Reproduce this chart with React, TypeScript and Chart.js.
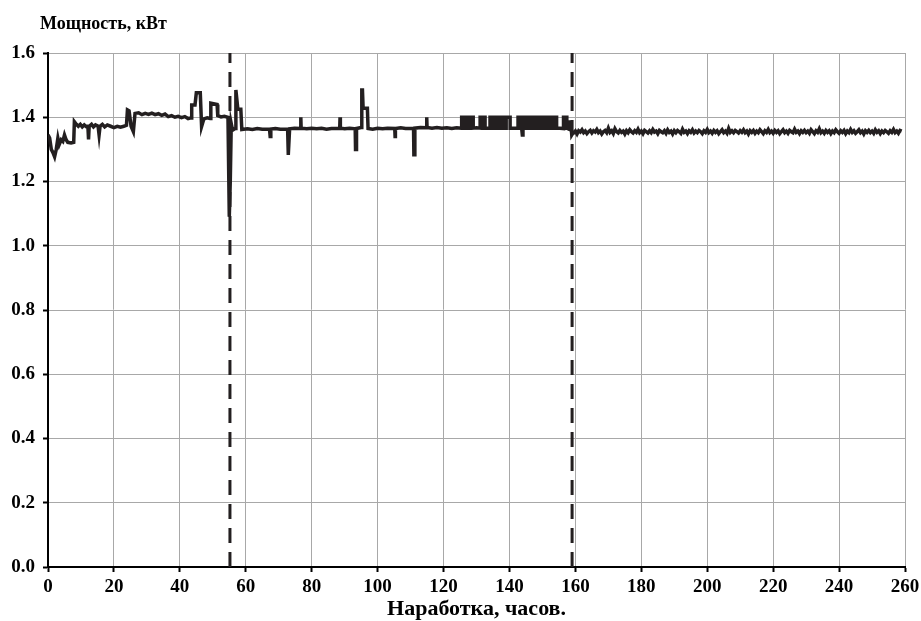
import React, { useEffect, useRef } from "react";
import { Chart, registerables } from "chart.js";

Chart.register(...registerables);

// Segment 1: running-in, 0 – 58.8 h
const hoursA = [
  0.0, 0.5, 1.0, 1.5, 2.0, 2.5, 3.0, 3.4, 4.0, 4.5, 5.0, 5.5, 6.0, 7.0, 7.8,
  8.0, 8.6, 9.2, 9.8, 10.4, 11.0, 11.6, 12.1, 12.3, 12.5, 13.2, 13.8, 14.4,
  15.2, 15.5, 15.8, 16.5, 17.2, 18.0, 19.0, 20.0, 21.0, 22.0, 23.0, 23.8, 24.1,
  24.6, 25.2, 25.9, 26.4, 27.5, 28.5, 29.5, 30.5, 31.5, 32.5, 33.5, 34.5, 35.5,
  36.5, 37.5, 38.5, 39.5, 40.5, 41.5, 42.5, 43.4, 43.6, 44.6, 45.0, 46.2, 46.6,
  47.3, 48.3, 49.2, 49.4, 51.3, 51.5, 52.5, 53.5, 54.6, 55.0, 55.3, 55.6, 56.0,
  56.8, 57.0, 57.6, 58.5,
];
const powerA = [
  1.345, 1.335, 1.300, 1.290, 1.277, 1.300, 1.335, 1.315, 1.330, 1.325, 1.345,
  1.330, 1.322, 1.320, 1.322, 1.386, 1.378, 1.372, 1.378, 1.370, 1.376, 1.371,
  1.372, 1.331, 1.372, 1.378, 1.370, 1.376, 1.372, 1.345, 1.372, 1.378, 1.370,
  1.376, 1.372, 1.368, 1.372, 1.369, 1.372, 1.375, 1.423, 1.420, 1.372, 1.355,
  1.412, 1.414, 1.408, 1.412, 1.409, 1.413, 1.408, 1.411, 1.406, 1.410, 1.402,
  1.405, 1.400, 1.403, 1.399, 1.402, 1.396, 1.398, 1.438, 1.438, 1.476, 1.476,
  1.371, 1.395, 1.398, 1.396, 1.444, 1.440, 1.405, 1.401, 1.403, 1.400, 1.090,
  1.200, 1.380, 1.360, 1.365, 1.485, 1.425, 1.425,
];

// Segment 2: 58.8 – 159.2 h
const hoursB = [
  58.8, 60.5, 62.0, 63.5, 65.0, 67.2, 67.4, 67.6, 69.0, 70.5, 72.7, 72.9, 73.1,
  73.3, 74.8, 76.6, 76.7, 76.8, 78.5, 80.0, 81.5, 83.0, 84.5, 86.0, 88.5, 88.6,
  88.7, 90.0, 91.5, 93.2, 93.3, 93.5, 93.6, 95.0, 95.2, 95.4, 95.6, 96.9, 97.1,
  98.5, 100.0, 101.5, 103.0, 105.2, 105.3, 105.4, 107.0, 108.5, 110.9, 111.0,
  111.2, 111.3, 113.0, 114.8, 114.9, 115.0, 116.5, 118.0, 119.5, 121.0, 122.5,
  124.0, 125.4,
  125.5, 125.5, 125.9, 125.9, 126.3, 126.3, 126.8, 126.8, 127.2, 127.2, 127.6,
  127.6, 128.0, 128.0, 129.0, 129.0, 130.0, 131.1, 131.1, 131.5, 131.5, 131.9,
  131.9, 132.6, 132.6, 133.4, 134.1, 134.1, 134.6, 134.6, 134.9, 134.9, 135.6,
  135.6, 135.9, 135.9, 136.5, 136.5, 136.8, 136.8, 137.8, 137.8, 138.1, 138.1,
  138.7, 138.7, 139.0, 139.0, 140.2, 140.2, 141.4, 142.6, 142.6, 143.0, 143.0,
  143.3, 143.3, 143.7, 143.7, 143.9, 144.1, 144.7, 144.7, 145.6, 145.6, 146.2,
  146.2, 146.7, 146.7, 147.0, 147.0, 147.5, 147.5, 147.8, 147.8, 148.3, 148.3,
  148.9, 148.9, 149.4, 149.4, 149.7, 149.7, 150.3, 150.3, 150.6, 150.6, 151.1,
  151.1, 151.4, 151.4, 151.9, 151.9, 152.3, 152.3, 152.8, 152.8, 153.3, 153.3,
  153.7, 153.7, 154.0, 154.0, 154.3, 154.3, 155.3, 156.4, 156.4, 156.8, 156.8,
  157.1, 157.1, 157.4, 157.4, 158.0, 158.3, 158.6, 158.9, 159.2,
];
const powerB = [
  1.362, 1.364, 1.362, 1.365, 1.363, 1.363, 1.340, 1.363, 1.365, 1.363, 1.363,
  1.283, 1.283, 1.364, 1.366, 1.365, 1.400, 1.366, 1.364, 1.366, 1.364, 1.366,
  1.363, 1.365, 1.365, 1.400, 1.366, 1.364, 1.366, 1.364, 1.300, 1.300, 1.365,
  1.368, 1.485, 1.485, 1.428, 1.428, 1.365, 1.363, 1.366, 1.364, 1.366, 1.365,
  1.340, 1.365, 1.367, 1.365, 1.365, 1.283, 1.283, 1.366, 1.368, 1.367, 1.400,
  1.368, 1.366, 1.368, 1.366, 1.367, 1.365, 1.367, 1.366,
  1.366, 1.400, 1.400, 1.366, 1.366, 1.400, 1.400, 1.366, 1.366, 1.400, 1.400,
  1.366, 1.366, 1.400, 1.400, 1.366, 1.367, 1.366, 1.400, 1.400, 1.366, 1.366,
  1.400, 1.400, 1.366, 1.366, 1.366, 1.400, 1.400, 1.366, 1.366, 1.400, 1.400,
  1.366, 1.366, 1.400, 1.400, 1.366, 1.366, 1.400, 1.400, 1.366, 1.366, 1.400,
  1.400, 1.366, 1.366, 1.400, 1.400, 1.366, 1.366, 1.366, 1.400, 1.400, 1.366,
  1.366, 1.400, 1.400, 1.366, 1.345, 1.366, 1.366, 1.400, 1.400, 1.366, 1.366,
  1.400, 1.400, 1.366, 1.366, 1.400, 1.400, 1.366, 1.366, 1.400, 1.400, 1.366,
  1.366, 1.400, 1.400, 1.366, 1.366, 1.400, 1.400, 1.366, 1.366, 1.400, 1.400,
  1.366, 1.366, 1.400, 1.400, 1.366, 1.366, 1.400, 1.400, 1.366, 1.366, 1.400,
  1.400, 1.366, 1.366, 1.400, 1.400, 1.366, 1.366, 1.365, 1.400, 1.400, 1.366,
  1.366, 1.400, 1.400, 1.366, 1.363, 1.385, 1.385, 1.345, 1.350,
];

// Segment 3: steady state, sampled every 0.5 h from 159.5 h
const startC = 159.5;
const stepC = 0.5;
const powerC = [
  1.351, 1.357, 1.348, 1.358, 1.354, 1.361, 1.352, 1.357, 1.349, 1.355, 1.359, 1.351, 1.358, 1.354, 1.362, 1.352, 1.357, 1.348, 1.355, 1.359,
  1.352, 1.366, 1.353, 1.358, 1.349, 1.364, 1.355, 1.351, 1.359, 1.353, 1.357, 1.348, 1.358, 1.352, 1.361, 1.355, 1.351, 1.358, 1.353, 1.363,
  1.352, 1.357, 1.349, 1.359, 1.355, 1.351, 1.358, 1.352, 1.362, 1.354, 1.357, 1.349, 1.359, 1.355, 1.352, 1.358, 1.350, 1.361, 1.353, 1.357,
  1.348, 1.358, 1.352, 1.359, 1.355, 1.350, 1.363, 1.353, 1.357, 1.349, 1.358, 1.353, 1.361, 1.351, 1.357, 1.352, 1.359, 1.355, 1.349, 1.358,
  1.353, 1.362, 1.352, 1.357, 1.350, 1.359, 1.353, 1.358, 1.349, 1.355, 1.361, 1.352, 1.357, 1.350, 1.365, 1.353, 1.358, 1.352, 1.359, 1.355,
  1.351, 1.358, 1.353, 1.361, 1.352, 1.357, 1.348, 1.358, 1.353, 1.359, 1.350, 1.357, 1.352, 1.361, 1.355, 1.349, 1.358, 1.353, 1.362, 1.352,
  1.357, 1.350, 1.359, 1.353, 1.358, 1.349, 1.355, 1.361, 1.352, 1.357, 1.350, 1.359, 1.355, 1.352, 1.363, 1.353, 1.357, 1.349, 1.358, 1.353,
  1.359, 1.352, 1.357, 1.350, 1.361, 1.355, 1.349, 1.358, 1.353, 1.364, 1.352, 1.357, 1.350, 1.359, 1.353, 1.358, 1.349, 1.357, 1.352, 1.361,
  1.355, 1.350, 1.358, 1.353, 1.359, 1.349, 1.357, 1.352, 1.362, 1.353, 1.358, 1.350, 1.355, 1.361, 1.352, 1.357, 1.348, 1.358, 1.353, 1.359,
  1.352, 1.357, 1.350, 1.361, 1.353, 1.358, 1.349, 1.357, 1.352, 1.359, 1.355, 1.350, 1.358, 1.353, 1.362, 1.352, 1.357, 1.350, 1.359, 1.357,
];

// Stage boundaries (dashed vertical lines), hours
const stageBounds = [55.2, 159.0];

const yTitle = "Мощность, кВт";
const xTitle = "Наработка, часов.";

const INK = "#231f20";
const FONT = '"Liberation Serif", "Times New Roman", serif';

export default function App() {
  const ref = useRef<HTMLCanvasElement | null>(null);

  useEffect(() => {
    const canvas = ref.current;
    if (!canvas) return;

    const series: { x: number; y: number }[] = [];
    hoursA.forEach((h, i) => series.push({ x: h, y: powerA[i] }));
    hoursB.forEach((h, i) => series.push({ x: h, y: powerB[i] }));
    powerC.forEach((v, i) => series.push({ x: startC + i * stepC, y: v }));

    const boundSets = stageBounds.map((b) => ({
      data: [
        { x: b, y: 0 },
        { x: b, y: 1.6 },
      ],
      borderColor: INK,
      borderWidth: 3,
      borderDash: [15, 9],
      pointRadius: 0,
      fill: false,
    }));

    const titles = {
      id: "titles",
      afterDraw(chart: any) {
        const { ctx, chartArea } = chart;
        ctx.save();
        ctx.fillStyle = "#000";
        ctx.textBaseline = "middle";
        ctx.font = `bold 18px ${FONT}`;
        ctx.textAlign = "left";
        ctx.fillText(yTitle, 40, 24);
        ctx.font = `bold 22px ${FONT}`;
        ctx.textAlign = "center";
        ctx.fillText(xTitle, (chartArea.left + chartArea.right) / 2, 609);
        ctx.restore();
      },
    };

    const chart = new Chart(canvas, {
      type: "line",
      data: {
        datasets: [
          {
            data: series,
            borderColor: INK,
            borderWidth: 3.5,
            pointRadius: 0,
            tension: 0,
            fill: false,
          },
          ...boundSets,
        ] as any,
      },
      options: {
        animation: false,
        responsive: false,
        events: [],
        layout: { padding: { top: 53, right: 16, left: 0, bottom: 0 } },
        plugins: {
          legend: { display: false },
          tooltip: { enabled: false },
          title: { display: false },
        },
        scales: {
          x: {
            type: "linear",
            min: 0,
            max: 260,
            afterFit(scale: any) {
              scale.height = 54;
              scale.paddingLeft = 0;
              scale.paddingRight = 0;
            },
            ticks: {
              stepSize: 20,
              color: "#000",
              padding: 4,
              font: { family: FONT, size: 19, weight: "bold" },
            },
            grid: {
              color: "#a8a8a8",
              lineWidth: 1,
              tickColor: "#000",
              tickLength: 5,
              tickWidth: 2,
            },
            border: { color: "#000", width: 2 },
          },
          y: {
            type: "linear",
            min: 0,
            max: 1.6,
            afterFit(scale: any) {
              scale.width = 48;
              scale.paddingTop = 0;
              scale.paddingBottom = 0;
            },
            ticks: {
              stepSize: 0.2,
              color: "#000",
              padding: 8,
              font: { family: FONT, size: 19, weight: "bold" },
              callback: (v: any) => Number(v).toFixed(1),
            },
            grid: {
              color: "#a8a8a8",
              lineWidth: 1,
              tickColor: "#000",
              tickLength: 5,
              tickWidth: 2,
            },
            border: { color: "#000", width: 2 },
          },
        },
      } as any,
      plugins: [titles],
    });

    return () => chart.destroy();
  }, []);

  return (
    <div style={{ position: "absolute", left: 0, top: 0, width: 921, height: 621, background: "#fff" }}>
      <canvas ref={ref} width={921} height={621} />
    </div>
  );
}
